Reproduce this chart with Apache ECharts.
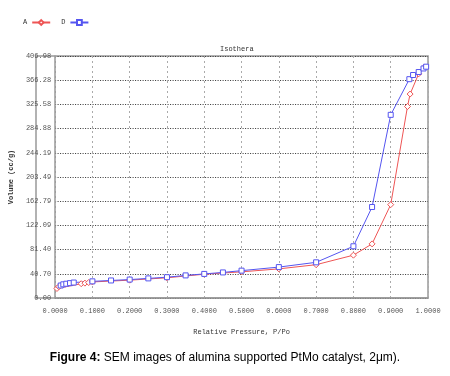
<!DOCTYPE html>
<html>
<head>
<meta charset="utf-8">
<script src="https://cdn.jsdelivr.net/npm/echarts@6/dist/echarts.min.js"></script>
<style>
	html, body { margin: 0; padding: 0; background: #fff; }
	#chart { width: 450px; height: 376px; }
</style>
</head>
<body>
<div id="chart"></div>
<script>
	// series A (red) - relative pressure / volume
	var seriesA = [
		[0.005, 16], [0.01, 19], [0.07, 24], [0.08, 25], [0.09, 26], [0.1, 27],
		[0.2, 30], [0.3, 34], [0.4, 40], [0.5, 44], [0.6, 49], [0.7, 56],
		[0.8, 72], [0.85, 91], [0.9, 157], [0.945, 322], [0.952, 343],
		[0.975, 377], [0.99, 388]
	];
	// series D (blue)
	var seriesD = [
		[0.015, 21], [0.022, 23], [0.03, 24], [0.04, 25], [0.05, 26], [0.1, 28],
		[0.15, 29.5], [0.2, 31], [0.25, 33], [0.3, 35], [0.35, 38], [0.4, 40.5],
		[0.45, 43], [0.5, 46], [0.6, 52], [0.7, 60], [0.8, 87], [0.85, 153],
		[0.9, 308], [0.95, 368], [0.96, 375], [0.975, 380], [0.988, 386], [0.995, 389]
	];
	var yMax = 406.977;
	var yStep = 40.6977;

	var myChart = echarts.init(document.getElementById('chart'));
	var mono = 'Liberation Mono';
	var option = {
		animation: false,
		title: {
			text: 'Isothera',
			left: 215,
			top: 41,
			textStyle: { fontFamily: mono, fontSize: 7, fontWeight: 'normal', color: '#333' }
		},
		legend: {
			left: 18,
			top: 14,
			itemGap: 10,
			itemWidth: 18,
			itemHeight: 6,
			align: 'right',
			textStyle: { fontFamily: mono, fontSize: 7, color: '#333' },
			data: ['A', 'D']
		},
		grid: { left: 36, right: 22, top: 56, bottom: 78 },
		xAxis: {
			type: 'value',
			min: 0,
			max: 1,
			interval: 0.1,
			name: 'Relative Pressure, P/Po',
			nameLocation: 'middle',
			nameGap: 31,
			nameTextStyle: { fontFamily: mono, fontSize: 7, color: '#333' },
			axisLine: { lineStyle: { color: '#999', width: 1.5 } },
			axisTick: { show: false },
			axisLabel: {
				fontFamily: mono, fontSize: 7, color: '#555', margin: 10,
				formatter: function (v) { return v.toFixed(4); }
			},
			splitLine: { show: true, lineStyle: { color: '#aaa', type: [2, 3] } }
		},
		yAxis: {
			type: 'value',
			min: 0,
			max: yMax,
			interval: yStep,
			name: 'Volume (cc/g)',
			nameLocation: 'middle',
			nameGap: 25,
			nameRotate: 90,
			nameTextStyle: { fontFamily: mono, fontSize: 7, color: '#333', fontWeight: 'bold' },
			axisLine: { show: true, lineStyle: { color: '#999', width: 1.5 } },
			axisTick: { show: false },
			axisLabel: {
				fontFamily: mono, fontSize: 7, color: '#555', margin: 4,
				formatter: function (v) { return v.toFixed(2); }
			},
			splitLine: { show: true, lineStyle: { color: '#333', type: [1, 1.5] } }
		},
		graphic: [{
			type: 'rect',
			shape: { x: 36, y: 56, width: 392, height: 242 },
			style: { fill: 'none', stroke: '#999', lineWidth: 1.5 },
			silent: true
		}, {
			type: 'text',
			left: 'center',
			top: 352,
			style: {
				text: '{b|Figure 4:} SEM images of alumina supported PtMo catalyst, 2μm).',
				font: '12px "Liberation Sans", Arial',
				fill: '#000',
				rich: {
					b: { font: 'bold 12px "Liberation Sans", Arial', fill: '#000' }
				}
			}
		}],
		series: [{
			name: 'A',
			type: 'line',
			data: seriesA,
			symbol: 'diamond',
			symbolSize: 6,
			color: '#ee5555',
			itemStyle: { color: '#fff', borderColor: '#ee5555', borderWidth: 1 },
			lineStyle: { color: '#ee5555', width: 1 }
		}, {
			name: 'D',
			type: 'line',
			data: seriesD,
			symbol: 'rect',
			symbolSize: 5,
			color: '#5555f0',
			itemStyle: { color: '#fff', borderColor: '#5555f0', borderWidth: 1 },
			lineStyle: { color: '#5555f0', width: 1 }
		}]
	};
	myChart.setOption(option);
</script>
</body>
</html>
